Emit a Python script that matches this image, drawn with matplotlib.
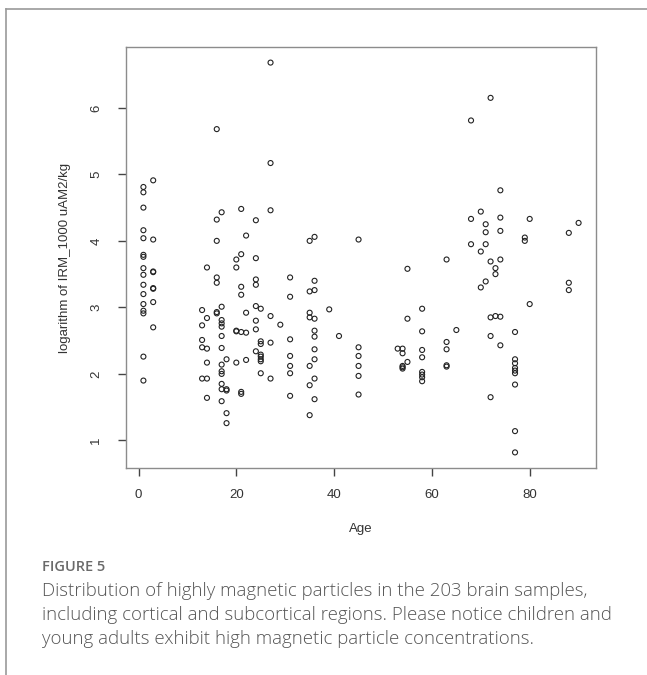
import matplotlib
matplotlib.use('Agg')
import matplotlib.pyplot as plt
from matplotlib.lines import Line2D

# log IRM values read per age group
values_by_age = {
    1: [4.81, 4.73, 4.50, 4.16, 4.04, 3.79, 3.76, 3.59, 3.49, 3.34, 3.20, 3.05, 2.95, 2.91, 2.26, 1.90],
    3: [4.91, 4.02, 3.54, 3.53, 3.29, 3.28, 3.08, 2.70],
    13: [2.96, 2.73, 2.51, 2.40, 1.93],
    14: [3.60, 2.84, 2.38, 2.17, 1.93, 1.64],
    16: [5.68, 4.32, 4.00, 3.45, 3.37, 2.93, 2.91],
    17: [4.43, 3.01, 2.81, 2.76, 2.71, 2.57, 2.39, 2.14, 2.04, 2.00, 1.85, 1.77, 1.59],
    18: [2.22, 1.77, 1.75, 1.41, 1.26],
    20: [3.72, 3.60, 2.65, 2.64, 2.17],
    21: [4.48, 3.80, 3.31, 3.19, 2.63, 1.73, 1.70],
    22: [4.08, 2.92, 2.62, 2.21],
    24: [4.31, 3.74, 3.42, 3.34, 3.02, 2.80, 2.67, 2.34],
    25: [2.98, 2.49, 2.45, 2.29, 2.26, 2.22, 2.19, 2.01],
    27: [6.68, 5.17, 4.46, 2.87, 2.47, 1.93],
    29: [2.74],
    31: [3.45, 3.16, 2.52, 2.27, 2.12, 2.01, 1.67],
    35: [4.00, 3.24, 2.92, 2.85, 2.12, 1.83, 1.38],
    36: [4.06, 3.40, 3.26, 2.83, 2.65, 2.56, 2.37, 2.22, 1.93, 1.62],
    39: [2.97],
    41: [2.57],
    45: [4.02, 2.40, 2.27, 2.12, 1.97, 1.69],
    53: [2.38],
    54: [2.38, 2.31, 2.12, 2.10, 2.08],
    55: [3.58, 2.83, 2.18],
    58: [2.98, 2.64, 2.36, 2.25, 2.03, 1.99, 1.95, 1.89],
    63: [3.72, 2.48, 2.37, 2.13, 2.11],
    65: [2.66],
    68: [5.81, 4.33, 3.95],
    70: [4.44, 3.84, 3.30],
    71: [4.25, 4.13, 3.95, 3.39],
    72: [6.15, 3.69, 2.85, 2.57, 1.65],
    73: [3.59, 3.50, 2.87],
    74: [4.76, 4.35, 4.15, 3.72, 2.86, 2.43],
    77: [2.63, 2.22, 2.16, 2.09, 2.05, 2.01, 1.84, 1.14, 0.82],
    79: [4.05, 4.00],
    80: [4.33, 3.05],
    88: [4.12, 3.37, 3.26],
    90: [4.27],
}
ages = [a for a, vs in values_by_age.items() for v in vs]
log_irm = [v for a, vs in values_by_age.items() for v in vs]

x_ticks = [0, 20, 40, 60, 80]
y_ticks = [1, 2, 3, 4, 5, 6]

caption_title = "FIGURE 5"
caption_lines = [
    "Distribution of highly magnetic particles in the 203 brain samples,",
    "including cortical and subcortical regions. Please notice children and",
    "young adults exhibit high magnetic particle concentrations.",
]

W, H = 647, 675
fig = plt.figure(figsize=(W / 100, H / 100), dpi=100)
fig.patch.set_facecolor('white')

# card border (top and left)
fig.add_artist(Line2D([6 / W, 1], [1 - 8.5 / H, 1 - 8.5 / H], color='#9a9a9a', lw=1.2))
fig.add_artist(Line2D([6 / W, 6 / W], [0, 1 - 8.5 / H], color='#9a9a9a', lw=1.2))

left, right, top, bottom = 126, 596, 47, 468
ax = fig.add_axes([left / W, 1 - bottom / H, (right - left) / W, (bottom - top) / H])
ax.scatter(ages, log_irm, s=13, facecolors='none', edgecolors='#222222', linewidths=0.8)
ax.margins(x=0.04, y=0.04)

for sp in ax.spines.values():
    sp.set_color('#8c8c8c')
    sp.set_linewidth(1.0)

tick_font = dict(family='Liberation Sans', size=9.5, color='#333333')
ax.set_xticks(x_ticks)
ax.set_xticklabels([str(t) for t in x_ticks], **tick_font)
ax.set_yticks(y_ticks)
ax.set_yticklabels([str(t) for t in y_ticks], rotation=90, va='center', **tick_font)
ax.tick_params(axis='both', direction='out', length=6, width=1, color='#444444')
ax.tick_params(axis='x', pad=9)
ax.tick_params(axis='y', pad=11)

ax.set_xlabel('Age', family='Liberation Sans', size=9.5, color='#333333', labelpad=16)
ax.set_ylabel('logarithm of IRM_1000 uAM2/kg', family='Liberation Sans', size=9.5,
              color='#333333', labelpad=14)

fig.text(42 / W, 1 - 567 / H, caption_title, family='Open Sans', size=10.5,
         color='#6a6a6a', va='center', ha='left', fontweight='semibold')
for i, line in enumerate(caption_lines):
    fig.text(42 / W, 1 - (591 + 24 * i) / H, line, family='Open Sans', size=13.4,
             color='#555555', va='center', ha='left', fontweight='light')

fig.savefig('out.png', dpi=100)
plt.close(fig)
